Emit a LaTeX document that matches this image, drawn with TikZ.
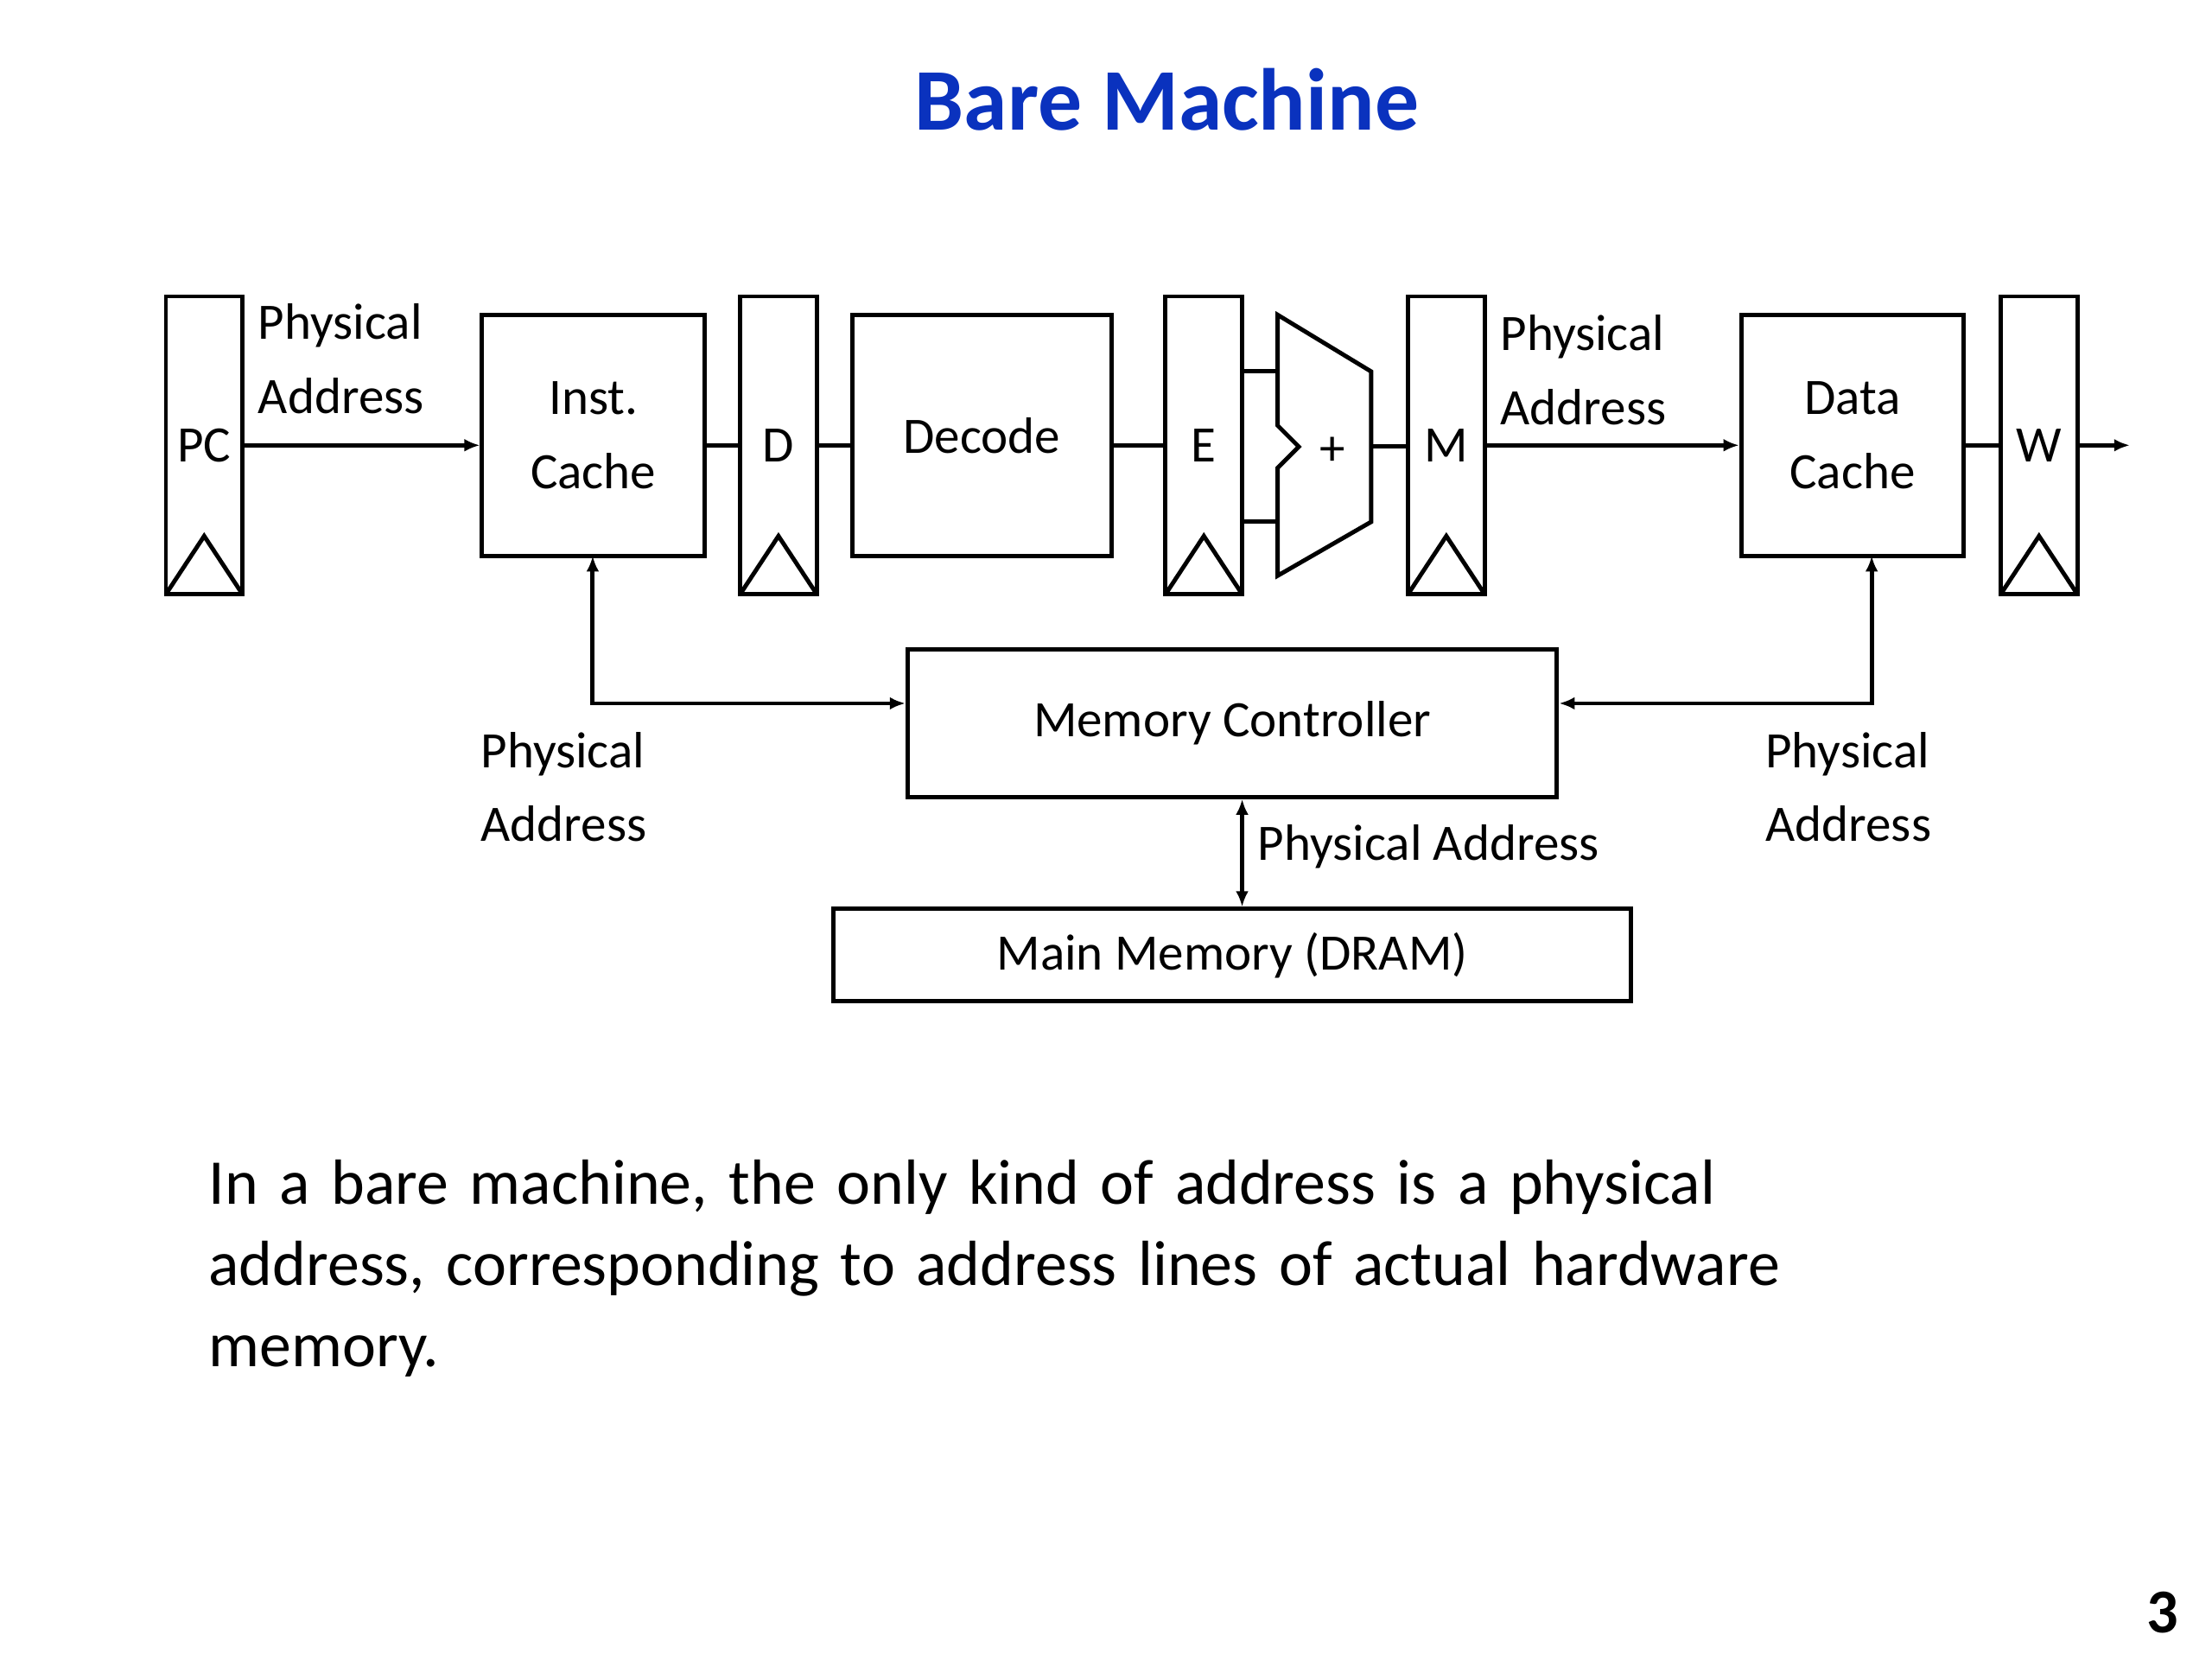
\documentclass[tikz,border=0pt]{standalone}
\usepackage{fontspec}
\setmainfont{Carlito}
\usetikzlibrary{arrows.meta}
\definecolor{titleblue}{RGB}{10,50,190}
\begin{document}
\begin{tikzpicture}[x=1pt,y=-1pt,
  every node/.style={inner sep=0pt},
  lab/.style={font=\fontsize{36}{52}\selectfont},
  ln/.style={line width=3pt},
  box/.style={draw,line width=3pt},
  arr/.style={ln,-{Latex[length=11pt,width=9pt]}},
  darr/.style={ln,{Latex[length=11pt,width=9pt]}-{Latex[length=11pt,width=9pt]}}]
\useasboundingbox (0,0) rectangle (1560,1170);
\node[font=\fontsize{62}{70}\selectfont\bfseries,text=titleblue] (title) at (823,70) {Bare Machine};
% registers
\foreach \n/\x/\t in {pc/117/PC,d/522/D,e/822/E,m/993/M,w/1411/W}{
  \draw[box] (\x,209) rectangle ++(54,210);
  \draw[ln] (\x,419) -- ++(27,-41) -- ++(27,41);
  \node[lab,minimum width=54pt,minimum height=210pt] (\n) at (\x+27,314) {};
  \node[lab] (\n t) at (\x+27,314) {\t};
}
\node[box,minimum width=157pt,minimum height=170pt,lab,align=center] (ic) at (418.5,307) {Inst.\\Cache};
\node[box,minimum width=183pt,minimum height=170pt,lab] (dec) at (692.5,307) {Decode};
\node[box,minimum width=157pt,minimum height=170pt,lab,align=center] (dc) at (1306.5,307) {Data\\Cache};
\node[box,minimum width=458pt,minimum height=104pt,lab] (mc) at (869,510) {Memory Controller};
\node[box,minimum width=562pt,minimum height=65pt,lab] (mm) at (869,673.5) {Main Memory (DRAM)};
% ALU
\draw[ln] (901,222) -- (967,262) -- (967,368) -- (901,406) -- (901,330) -- (916,315) -- (901,300) -- cycle;
\coordinate (alu) at (967,315);
\node[lab] (plus) at (940,318) {+};
\coordinate (wout) at (1502,314);
% connectors
\draw[arr] (pc.east |- 0,314) -- (ic.west |- 0,314);
\draw[ln] (ic.east |- 0,314) -- (d.west |- 0,314);
\draw[ln] (d.east |- 0,314) -- (dec.west |- 0,314);
\draw[ln] (dec.east |- 0,314) -- (e.west |- 0,314);
\draw[ln] (e.east |- 0,262) -- (901,262);
\draw[ln] (e.east |- 0,368) -- (901,368);
\draw[ln] (alu) -- (m.west |- 0,315);
\draw[arr] (m.east |- 0,314) -- (dc.west |- 0,314);
\draw[ln] (dc.east |- 0,314) -- (w.west |- 0,314);
\draw[arr] (w.east |- 0,314) -- (wout);
\draw[darr] (418,392) -- (418,496) -- (mc.west |- 0,496);
\draw[darr] (1320,392) -- (1320,496) -- (mc.east |- 0,496);
\draw[darr] (mc.south -| 876,0) -- (mm.north -| 876,0);
% labels
\node[lab,align=left,anchor=west] (l1) at (182,253) {Physical\\Address};
\node[lab,align=left,anchor=west] (l2) at (1058,261) {Physical\\Address};
\node[lab,align=left,anchor=west] (l3) at (339,555) {Physical\\Address};
\node[lab,align=left,anchor=west] (l4) at (1245,555) {Physical\\Address};
\node[lab,anchor=west] (l5) at (887,597) {Physical Address};
\node[font=\fontsize{45}{57}\selectfont,align=left,anchor=north west,text width=1380pt] (para) at (147,818)
 {In a bare machine, the only kind of address is a physical\\address, corresponding to address lines of actual hardware\\memory.};
\node[font=\fontsize{44}{50}\selectfont\bfseries] (pg) at (1525,1137) {3};
\end{tikzpicture}
\end{document}
